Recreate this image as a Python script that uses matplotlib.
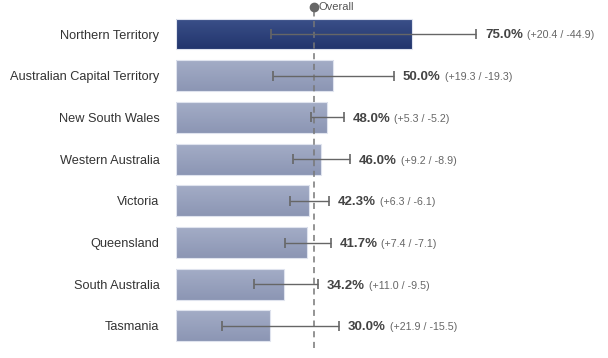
import numpy as np
import matplotlib.pyplot as plt
from matplotlib.colors import LinearSegmentedColormap

plt.rcParams['font.family'] = ['Liberation Sans', 'DejaVu Sans']

regions = ['Northern Territory', 'Australian Capital Territory', 'New South Wales',
           'Western Australia', 'Victoria', 'Queensland', 'South Australia', 'Tasmania']
values = [75.0, 50.0, 48.0, 46.0, 42.3, 41.7, 34.2, 30.0]
err_plus = [20.4, 19.3, 5.3, 9.2, 6.3, 7.4, 11.0, 21.9]
err_minus = [44.9, 19.3, 5.2, 8.9, 6.1, 7.1, 9.5, 15.5]
overall = 43.9

W, H = 608, 358
fig = plt.figure(figsize=(W / 100, H / 100), dpi=100)
ax = fig.add_axes([176 / W, 0, 1 - 176 / W, 1])

px_per = 236 / 75.0
ax.set_xlim(0, (W - 176) / px_per)
row = 41.7
ax.set_ylim((H - 34) / row, -34 / row)

y = np.arange(len(regions))
dark = LinearSegmentedColormap.from_list('d', ['#22356d', '#3b5089'])
light = LinearSegmentedColormap.from_list('l', ['#8c96b4', '#a3acc6'])
grad = np.linspace(0, 1, 50).reshape(-1, 1)

bars = ax.barh(y, values, height=0.74, color='none', edgecolor='#dfe3ee', linewidth=0.8, zorder=2)
for i, b in enumerate(bars):
    cmap = dark if i == 0 else light
    x0, y0 = b.get_x(), b.get_y()
    im = ax.imshow(grad, cmap=cmap, aspect='auto', origin='lower',
                   extent=(x0, x0 + b.get_width(), y0 + b.get_height(), y0), zorder=1)
    im.set_clip_path(b)

ax.axvline(overall, ymin=10 / H, ymax=1 - 10 / H, color='#777777', lw=1.1, ls=(0, (4, 3)), zorder=3)
ax.plot([overall], [(7 - 34) / row], 'o', color='#666666', ms=6, clip_on=False, zorder=4)
ax.text(overall + 1.5, (7 - 34) / row, 'Overall', fontsize=8, color='#555555', va='center')

for i in range(len(regions)):
    hi = values[i] + err_plus[i]
    ax.errorbar([values[i]], [i], xerr=[[err_minus[i]], [err_plus[i]]], fmt='none',
                ecolor='#666666', elinewidth=1.0, capsize=3.4, capthick=1.2, zorder=5)
    t = ax.text(hi + 2.8, i, f'{values[i]:.1f}%', fontsize=9.5, fontweight='bold',
                color='#444444', va='center_baseline', ha='left')
    ax.annotate(f'(+{err_plus[i]:.1f} / -{err_minus[i]:.1f})', xy=(1, 0.5), xycoords=t,
                xytext=(3, 0), textcoords='offset points', fontsize=7.7,
                color='#666666', va='center', ha='left')

ax.set_yticks(y)
ax.set_yticklabels(regions, fontsize=9.2, color='#333333')
ax.tick_params(axis='y', length=0, pad=12)
ax.set_xticks([])
for s in ax.spines.values():
    s.set_visible(False)

fig.savefig('out.png', dpi=100)
